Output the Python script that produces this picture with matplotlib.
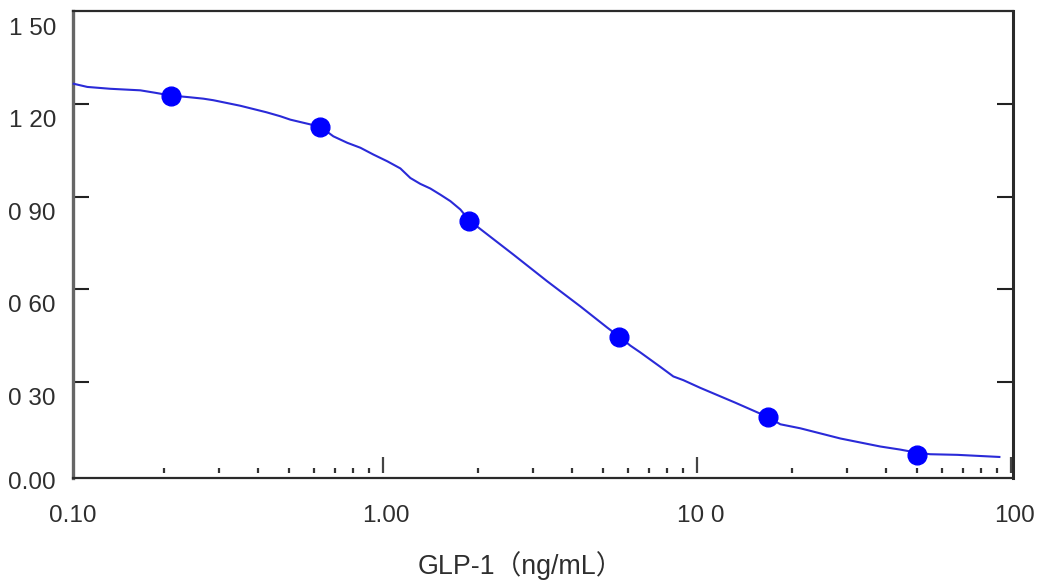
import matplotlib
matplotlib.use("Agg")
import matplotlib.pyplot as plt
import matplotlib.transforms as mtransforms

# ---- data ----
conc = [0.211, 0.630, 1.88, 5.64, 16.8, 50.0]
absorb = [1.228, 1.127, 0.823, 0.447, 0.187, 0.065]

curve_x = [0.1025, 0.1141, 0.1351, 0.1683, 0.1879, 0.211, 0.2393, 0.2672, 0.2874, 0.3504,
           0.424, 0.4699, 0.5056, 0.5561, 0.630, 0.6931, 0.7677, 0.845, 0.9294, 1.030,
           1.133, 1.219, 1.311, 1.411, 1.519, 1.635, 1.759, 1.88,
           2.594, 3.329, 4.241, 5.169, 5.64, 6.117, 6.58, 7.625, 8.386,
           9.024, 10.22, 13.21, 16.83, 18.38, 21.28, 28.54,
           38.26, 44.3, 50.0, 55.2, 67.3, 92.3]
curve_y = [1.267, 1.256, 1.250, 1.245, 1.237, 1.228, 1.223, 1.218, 1.213, 1.195,
           1.174, 1.161, 1.150, 1.140, 1.127, 1.096, 1.075, 1.059, 1.037, 1.015,
           0.992, 0.961, 0.942, 0.927, 0.907, 0.886, 0.859, 0.823,
           0.713, 0.626, 0.545, 0.476, 0.447, 0.418, 0.396, 0.349, 0.318,
           0.306, 0.281, 0.233, 0.186, 0.163, 0.150, 0.117,
           0.091, 0.081, 0.071, 0.066, 0.064, 0.057]

y_tick_values = [0.0, 0.3, 0.6, 0.9, 1.2, 1.5]
y_tick_labels = ["0.00", "0 30", "0 60", "0 90", "1 20", "1 50"]
x_tick_values = [0.1, 1.0, 10.0, 100.0]
x_tick_labels = ["0.10", "1.00", "10 0", "100"]
x_label = "GLP-1（ng/mL）"

FONT = ["Liberation Sans", "Noto Sans CJK JP", "DejaVu Sans"]
plt.rcParams["font.family"] = FONT

W, H, DPI = 1043, 581, 100
fig = plt.figure(figsize=(W / DPI, H / DPI), dpi=DPI)
ax = fig.add_axes([72.7 / W, 1 - 477.5 / H, (1012.7 - 72.7) / W, (477.5 - 10.7) / H])

ax.set_xscale("log")
ax.set_xlim(0.1025, 101)
ax.set_ylim(-0.0094, 1.503)

# curve and points
ax.plot(curve_x, curve_y, color="#2a2ad8", lw=1.5, solid_capstyle="butt", zorder=3, clip_on=False)
ax.plot(conc, absorb, "o", color="#0000ff", ms=13.5, mec="#0000ff", zorder=4)

# spines
ax.spines["left"].set_color("#666666")
ax.spines["left"].set_linewidth(2.4)
ax.spines["bottom"].set_color("#2a2a2a")
ax.spines["bottom"].set_linewidth(1.6)
ax.spines["top"].set_color("#2a2a2a")
ax.spines["top"].set_linewidth(1.6)
ax.spines["right"].set_color("#2a2a2a")
ax.spines["right"].set_linewidth(2.2)

# y ticks: inward on both sides at interior values
ax.set_yticks(y_tick_values[1:-1])
ax.tick_params(axis="y", which="both", direction="in", left=True, right=True,
               labelleft=False, labelright=False, length=11.5, width=1.5, color="#222222")
ax.yaxis.set_minor_locator(matplotlib.ticker.NullLocator())

# x ticks: short marks separated from the spine
ax.set_xticks([])
ax.xaxis.set_minor_locator(matplotlib.ticker.NullLocator())
ax.tick_params(axis="x", which="both", bottom=False, top=False, labelbottom=False)
trans_xb = mtransforms.blended_transform_factory(ax.transData, ax.transAxes)
axh = 477.5 - 10.7
gap = 5.0 / axh
major_ticks = [1.0, 10.0, 100.0]
minor_ticks = [m * d for d in (0.1, 1.0, 10.0) for m in range(2, 10)]
ax.vlines(major_ticks, gap, gap + 16.0 / axh, transform=trans_xb, color="#444444", lw=1.6, zorder=2)
ax.vlines(minor_ticks, gap, gap + 5.0 / axh, transform=trans_xb, color="#333333", lw=1.6, zorder=2)

# y tick labels (offset below tick level like the original)
for v, lab in zip(y_tick_values, y_tick_labels):
    dy = -8 if v == 0 else -17
    off = mtransforms.ScaledTranslation(-16.7 / DPI, dy / DPI, fig.dpi_scale_trans)
    t = mtransforms.blended_transform_factory(ax.transAxes, ax.transData) + off
    ax.text(0, v, lab, transform=t, ha="right", va="center", fontsize=17.5,
            color="#2e2e2e", clip_on=False)

# x tick labels
for v, lab in zip(x_tick_values, x_tick_labels):
    off = mtransforms.ScaledTranslation(3 / DPI, -38.5 / DPI, fig.dpi_scale_trans)
    ax.text(v, 0, lab, transform=trans_xb + off, ha="center", va="center", fontsize=17.5,
            color="#2e2e2e", clip_on=False)

# axis label
fig.text(520 / W, 1 - 566 / H, x_label, ha="center", va="center", fontsize=19.3,
         color="#2e2e2e", family=FONT)

fig.savefig("out.png", dpi=DPI)
